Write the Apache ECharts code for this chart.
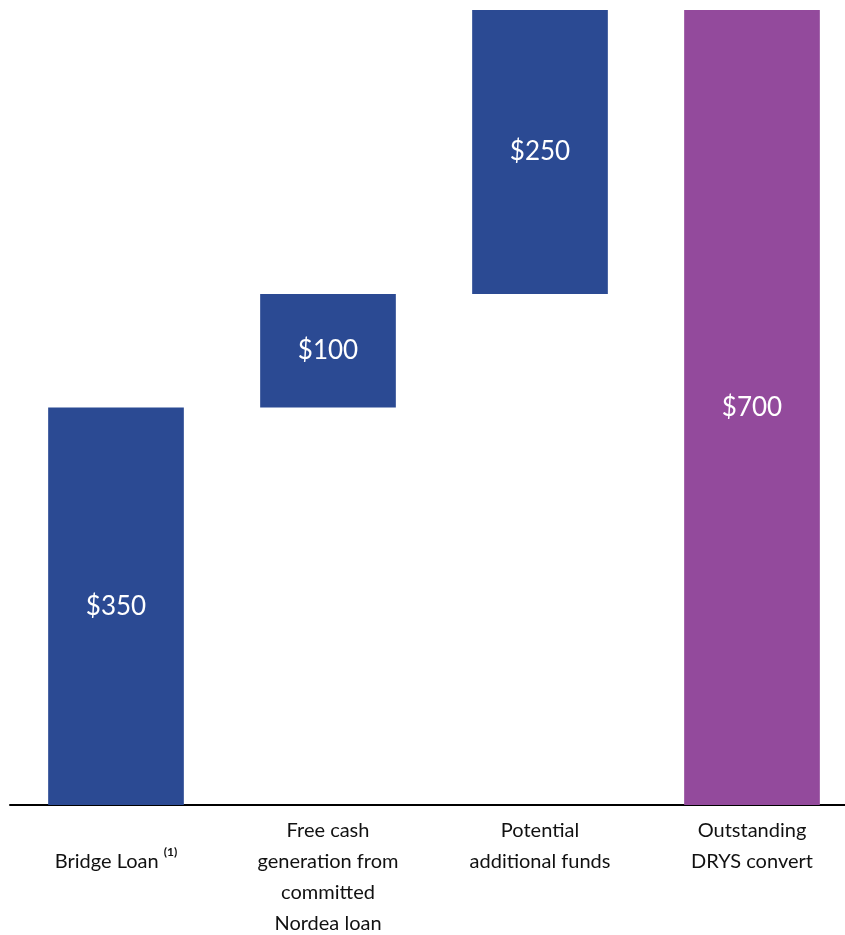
<!DOCTYPE html>
<html>
<head>
<meta charset="utf-8">
<script src="https://cdn.jsdelivr.net/npm/echarts@6/dist/echarts.min.js"></script>
<style>
  html, body { margin: 0; padding: 0; background: #fff; }
  #chart { width: 845px; height: 935px; }
</style>
</head>
<body>
<div id="chart"></div>
<script>
// Funding bridge: three sources stacking up to the outstanding convert
const categories = [
  '\nBridge Loan',
  'Free cash\ngeneration from\ncommitted\nNordea loan',
  'Potential\nadditional funds',
  'Outstanding\nDRYS convert'
];
const amounts = [350, 100, 250, 700];
const isTotal = [false, false, false, true];
const footnotes = ['(1)', '', '', ''];

const BLUE = '#2B4A93';
const PURPLE = '#934A9C';

// Invisible offsets so each step floats on top of the running sum
const offsets = [];
let running = 0;
amounts.forEach((v, i) => {
  if (isTotal[i]) {
    offsets.push(0);
  } else {
    offsets.push(running);
    running += v;
  }
});

const chart = echarts.init(document.getElementById('chart'));
chart.setOption({
  animation: false,
  grid: { left: 10, right: -13, top: 10, bottom: 130, containLabel: false, outerBoundsMode: 'none' },
  xAxis: {
    type: 'category',
    data: categories,
    axisLine: { show: true, lineStyle: { color: '#000', width: 2 } },
    axisTick: { show: false },
    axisLabel: {
      interval: 0,
      margin: 10,
      verticalAlign: 'top',
      color: '#111',
      fontFamily: 'Lato',
      fontSize: 20,
      lineHeight: 31,
      formatter: (val, idx) => footnotes[idx] ? val + ' {sup|' + footnotes[idx] + '}' : val,
      rich: {
        sup: {
          fontFamily: 'Lato',
          fontSize: 12,
          fontWeight: 'bold',
          color: '#111',
          lineHeight: 5,
          verticalAlign: 'top'
        }
      }
    }
  },
  yAxis: { type: 'value', min: 0, max: 700, show: false, splitLine: { show: false } },
  series: [
    {
      type: 'bar',
      stack: 'bridge',
      silent: true,
      itemStyle: { color: 'transparent' },
      data: offsets,
      barWidth: '64%'
    },
    {
      type: 'bar',
      stack: 'bridge',
      barWidth: '64%',
      data: amounts.map((v, i) => ({
        value: v,
        itemStyle: { color: isTotal[i] ? PURPLE : BLUE }
      })),
      label: {
        show: true,
        position: 'inside',
        color: '#fff',
        fontFamily: 'Lato',
        fontSize: 26,
        formatter: p => '$' + p.value
      }
    }
  ]
});
</script>
</body>
</html>
